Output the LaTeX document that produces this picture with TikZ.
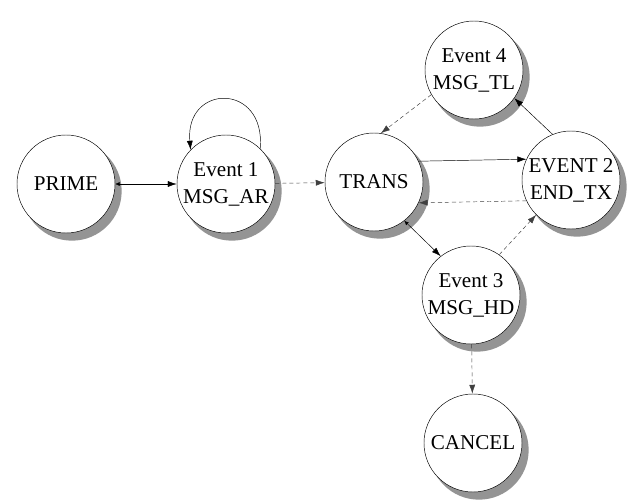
\documentclass[tikz,border=0pt]{standalone}
\usepackage{fontspec}
\setmainfont{Liberation Serif}
\usepackage{tikz}
\usetikzlibrary{arrows.meta}

\tikzset{
  state/.style={circle, draw=black, thin, fill=white, inner sep=0pt,
    minimum size=2.94cm, align=center, font=\fontsize{18}{23}\selectfont},
  shadowdisc/.style={fill=black!42},
  go/.style={thin, -{Latex[length=2.7mm, width=1.8mm]}},
  maybe/.style={go, draw=black!75, dash pattern=on 3.5pt off 2.5pt},
  tail/.style={{Latex[length=1.3mm, width=1.2mm]}-{Latex[length=2.7mm, width=1.8mm]}}
}

\begin{document}
\begin{tikzpicture}[x=0.03cm, y=0.03cm]

    \useasboundingbox (0, 0) rectangle (637, -501);

    % shadows, offset down and to the right
    \path[shadowdisc] (72, -191)  circle[radius=1.49cm];
    \path[shadowdisc] (232, -191) circle[radius=1.49cm];
    \path[shadowdisc] (380, -189) circle[radius=1.49cm];
    \path[shadowdisc] (480, -77)  circle[radius=1.49cm];
    \path[shadowdisc] (577, -187) circle[radius=1.49cm];
    \path[shadowdisc] (477, -302) circle[radius=1.49cm];
    \path[shadowdisc] (479, -450) circle[radius=1.49cm];

    \node[state] (prime)  at (66, -184)  {PRIME};
    \node[state] (ev1)    at (226, -184) {Event 1\\MSG\_AR};
    \node[state] (trans)  at (374, -182) {TRANS};
    \node[state] (ev4)    at (474, -70)  {Event 4\\MSG\_TL};
    \node[state] (ev2)    at (571, -180) {EVENT 2\\END\_TX};
    \node[state] (ev3)    at (471, -295) {Event 3\\MSG\_HD};
    \node[state] (cancel) at (473, -443) {CANCEL};

    % solid transitions
    \draw[go, tail] (prime) -- (ev1);
    \draw[go] (ev1.46) .. controls +(85:2cm) and +(95:2cm) .. (ev1.136);
    \draw[go] (trans.25) -- (ev2.155);
    \draw[go, tail] (trans.-52) -- (ev3.128);
    \draw[go] (ev2.112) -- (ev4.-35);

    % dashed transitions
    \draw[maybe] (ev1) -- (trans);
    \draw[maybe] (ev2.205) -- (trans.-25);
    \draw[maybe] (ev3.55) -- (ev2.-135);
    \draw[maybe] (ev4.210) -- (trans.82);
    \draw[maybe] (ev3) -- (cancel);

\end{tikzpicture}
\end{document}
